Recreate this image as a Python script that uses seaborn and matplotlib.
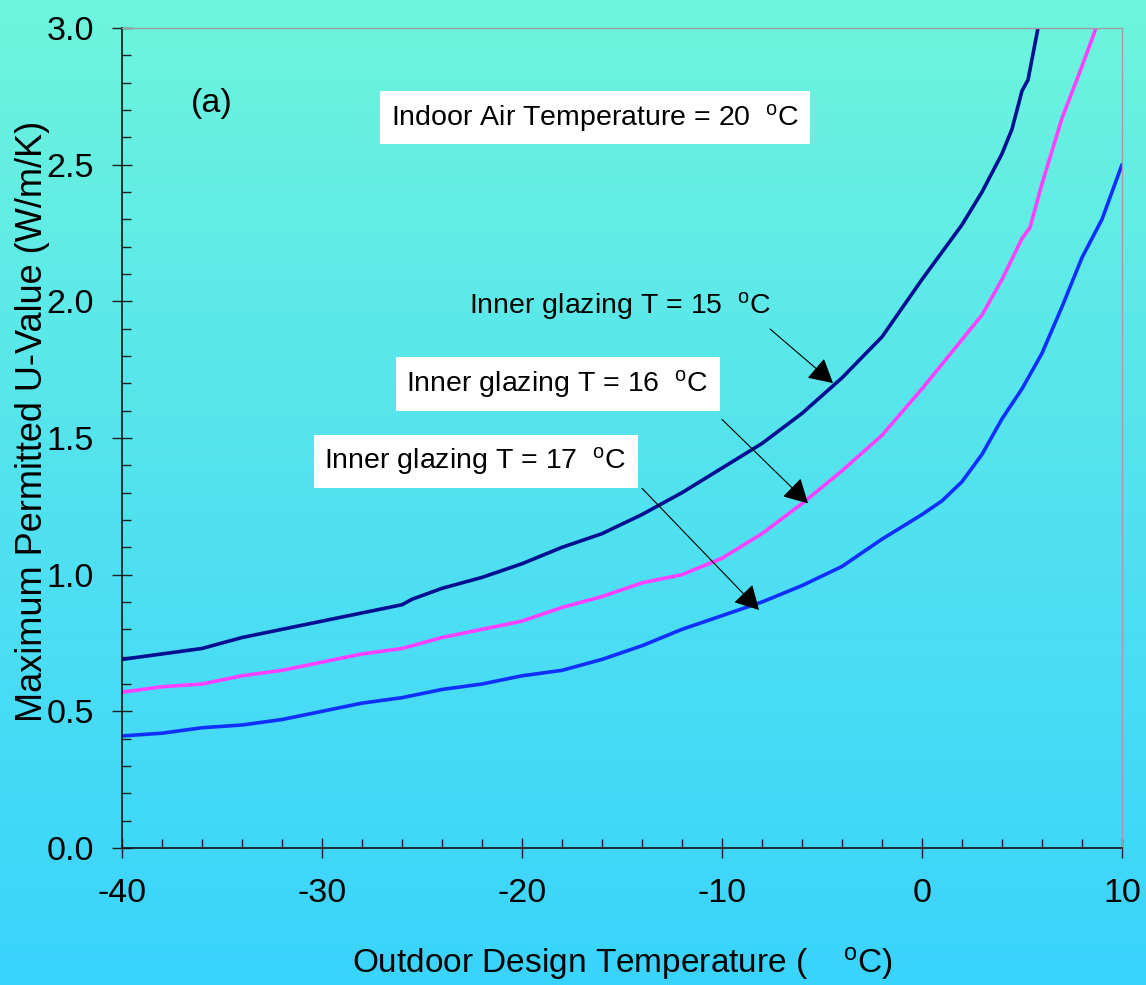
import numpy as np
import pandas as pd
import matplotlib
matplotlib.use("Agg")
import matplotlib.pyplot as plt
import seaborn as sns
from matplotlib.colors import LinearSegmentedColormap
from matplotlib.ticker import MultipleLocator, FormatStrFormatter
from matplotlib.patches import ArrowStyle

# ---------------- data ----------------
series_names = ["Inner glazing T = 15 °C", "Inner glazing T = 16 °C", "Inner glazing T = 17 °C"]

t15 = [-40, -38, -36, -34, -32, -30, -28, -26, -25.5, -24, -22, -20, -18, -16, -14, -12,
       -10, -8, -6, -4, -2, 0, 1, 2, 3, 4, 4.5, 5, 5.3, 5.8]
u15 = [0.69, 0.71, 0.73, 0.77, 0.80, 0.83, 0.86, 0.89, 0.91, 0.95, 0.99, 1.04, 1.10, 1.15, 1.22, 1.30,
       1.39, 1.48, 1.59, 1.72, 1.87, 2.08, 2.18, 2.28, 2.40, 2.54, 2.63, 2.77, 2.81, 3.00]

t16 = [-40, -38, -36, -34, -32, -30, -28, -26, -24, -22, -20, -18, -16, -14, -12,
       -10, -8, -6, -4, -2, 0, 1, 2, 3, 4, 5, 5.4, 6, 7, 8, 8.7]
u16 = [0.57, 0.59, 0.60, 0.63, 0.65, 0.68, 0.71, 0.73, 0.77, 0.80, 0.83, 0.88, 0.92, 0.97, 1.00,
       1.06, 1.15, 1.26, 1.38, 1.51, 1.68, 1.77, 1.86, 1.95, 2.08, 2.23, 2.27, 2.43, 2.67, 2.86, 3.00]

t17 = [-40, -38, -36, -34, -32, -30, -28, -26, -24, -22, -20, -18, -16, -14, -12,
       -10, -8, -6, -4, -2, 0, 1, 2, 3, 4, 5, 6, 7, 8, 9, 9.5, 10]
u17 = [0.41, 0.42, 0.44, 0.45, 0.47, 0.50, 0.53, 0.55, 0.58, 0.60, 0.63, 0.65, 0.69, 0.74, 0.80,
       0.85, 0.90, 0.96, 1.03, 1.13, 1.22, 1.27, 1.34, 1.44, 1.57, 1.68, 1.81, 1.98, 2.16, 2.30, 2.40, 2.50]

x_ticks = [-40, -30, -20, -10, 0, 10]
y_ticks = [0.0, 0.5, 1.0, 1.5, 2.0, 2.5, 3.0]

df = pd.concat([
    pd.DataFrame({"T": t15, "U": u15, "series": series_names[0]}),
    pd.DataFrame({"T": t16, "U": u16, "series": series_names[1]}),
    pd.DataFrame({"T": t17, "U": u17, "series": series_names[2]}),
], ignore_index=True)

palette = {series_names[0]: "#001090", series_names[1]: "#FF40FF", series_names[2]: "#1030FF"}

# ---------------- style ----------------
sns.set_style("ticks")
plt.rcParams["font.family"] = ["Liberation Sans", "DejaVu Sans"]
plt.rcParams["mathtext.fontset"] = "custom"
plt.rcParams["mathtext.rm"] = "Liberation Sans"
plt.rcParams["mathtext.it"] = "Liberation Sans:italic"
plt.rcParams["axes.unicode_minus"] = False
plt.rcParams["text.color"] = "black"
plt.rcParams["axes.labelcolor"] = "black"
plt.rcParams["xtick.color"] = "black"
plt.rcParams["ytick.color"] = "black"

W, H = 1146, 985
fig = plt.figure(figsize=(W / 100, H / 100), dpi=100)

# gradient background
bg = fig.add_axes([0, 0, 1, 1], zorder=0)
grad = np.linspace(0, 1, 256).reshape(-1, 1)
cmap = LinearSegmentedColormap.from_list("bg", ["#6EF5DC", "#52E2EF", "#3AD3FC"])
bg.imshow(grad, aspect="auto", cmap=cmap, extent=[0, 1, 0, 1], origin="upper")
bg.set_axis_off()

L, R, T, B = 122, 1122, 28, 848
ax = fig.add_axes([L / W, 1 - B / H, (R - L) / W, (B - T) / H], zorder=1)
ax.set_facecolor("none")

sns.lineplot(data=df, x="T", y="U", hue="series", palette=palette, estimator=None,
             sort=False, linewidth=2.6, legend=False, ax=ax)

ax.set_xlim(-40, 10)
ax.set_ylim(0, 3)
ax.set_xticks(x_ticks)
ax.set_yticks(y_ticks)
ax.xaxis.set_minor_locator(MultipleLocator(2))
ax.yaxis.set_minor_locator(MultipleLocator(0.1))
ax.yaxis.set_major_formatter(FormatStrFormatter("%.1f"))
ax.xaxis.set_major_formatter(FormatStrFormatter("%d"))

ax.tick_params(which="major", direction="inout", length=14.5, width=1.0, color="#222222",
               labelsize=24.5, labelcolor="black")
ax.tick_params(axis="x", which="major", pad=14)
ax.tick_params(axis="y", which="major", pad=13)
ax.tick_params(which="minor", direction="in", length=6.5, width=1.0, color="#222222")

for s in ["left", "bottom"]:
    ax.spines[s].set_color("#111111")
    ax.spines[s].set_linewidth(1.2)
for s in ["top", "right"]:
    ax.spines[s].set_visible(True)
    ax.spines[s].set_color("#A0A0A0")
    ax.spines[s].set_linewidth(1.0)

ax.set_xlabel("")
ax.set_ylabel("")
fig.text(622 / W, 1 - 973 / H, "Outdoor Design Temperature (    $^{\\mathrm{o}}$C)",
         fontsize=24, ha="center", va="baseline", color="black")
fig.text(33 / W, 1 - 421 / H, "Maximum Permitted U-Value (W/m/K)",
         fontsize=26, ha="center", va="center", rotation=90, color="black")

# annotations
box = dict(boxstyle="square,pad=0.38", facecolor="white", edgecolor="none")
ax.text(-35.5, 2.694, "(a)", fontsize=24.5, ha="center", va="baseline")
ax.text(-16.35, 2.645, "Indoor Air Temperature = 20  $^{\\mathrm{o}}$C", fontsize=20.5,
        ha="center", va="baseline", bbox=box)
ax.text(-15.1, 1.956, "Inner glazing T = 15  $^{\\mathrm{o}}$C", fontsize=20.5,
        ha="center", va="baseline")
ax.text(-18.2, 1.669, "Inner glazing T = 16  $^{\\mathrm{o}}$C ", fontsize=20.5,
        ha="center", va="baseline", bbox=box)
ax.text(-22.3, 1.387, "Inner glazing T = 17  $^{\\mathrm{o}}$C ", fontsize=20.5,
        ha="center", va="baseline", bbox=box)

arrow_style = ArrowStyle("-|>", head_length=1.0, head_width=0.55)
arrows = [((-7.6, 1.899), (-4.45, 1.701)),
          ((-10.0, 1.568), (-5.7, 1.261)),
          ((-14.0, 1.316), (-8.15, 0.871))]
for (x0, y0), (x1, y1) in arrows:
    ax.annotate("", xy=(x1, y1), xytext=(x0, y0),
                arrowprops=dict(arrowstyle=arrow_style, color="black", lw=0.8,
                                mutation_scale=15, shrinkA=0, shrinkB=0))

fig.savefig("out.png", dpi=100)
